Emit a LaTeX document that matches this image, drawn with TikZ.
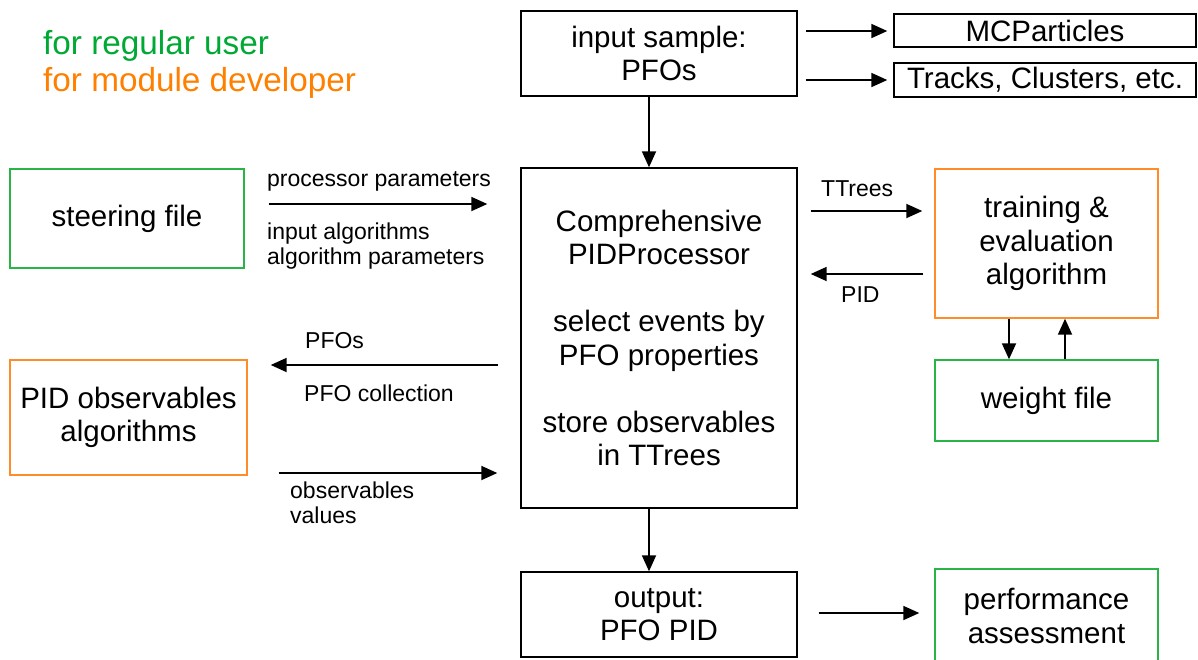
\documentclass[tikz,border=0pt]{standalone}
\usepackage{fontspec}
\setmainfont{Liberation Sans}
\usetikzlibrary{arrows.meta,calc}
\definecolor{txtgreen}{RGB}{0,169,51}
\definecolor{txtorange}{RGB}{255,128,0}
\definecolor{boxgreen}{RGB}{40,180,70}
\definecolor{boxorange}{RGB}{255,140,40}
\begin{document}
\begin{tikzpicture}[x=1pt,y=-1pt,
  box/.style={draw,line width=1.4pt,inner sep=0pt,align=center,font=\fontsize{29.5}{33.5}\selectfont},
  gbox/.style={box,draw=boxgreen},
  obox/.style={box,draw=boxorange},
  lbl/.style={anchor=base west,inner sep=0pt,font=\fontsize{23}{26}\selectfont},
  legend/.style={anchor=base west,inner sep=0pt,font=\fontsize{33.3}{38}\selectfont},
  arr/.style={line width=1.8pt,-{Triangle[length=16pt,width=14pt]}}]
\useasboundingbox (0,0) rectangle (1198,659);
\clip (0,0) rectangle (1198,659);

% legend
\node[legend,text=txtgreen] (leg1) at (43,54.3) {for regular user};
\node[legend,text=txtorange] (leg2) at (43,91.7) {for module developer};

% boxes
\node[box,minimum width=276pt,minimum height=85pt] (input) at (659,53.5) {input sample:\\PFOs};
\node[box,minimum width=302pt,minimum height=33pt] (mcp) at (1045,30.5) {MCParticles};
\node[box,minimum width=302pt,minimum height=34pt] (tracks) at (1045,80) {Tracks, Clusters, etc.};
\node[box,minimum width=276pt,minimum height=340pt] (comp) at (659,338)
  {Comprehensive\\PIDProcessor\\[33.5pt]select events by\\PFO properties\\[33.5pt]store observables\\in TTrees};
\node[gbox,minimum width=234pt,minimum height=99pt] (steer) at (127,218.5) {steering file};
\node[obox,minimum width=223pt,minimum height=149pt] (train) at (1046.5,243.5) {training \&\\evaluation\\algorithm};
\node[gbox,minimum width=223pt,minimum height=81pt] (weight) at (1046.5,400.5) {weight file};
\node[obox,minimum width=237pt,minimum height=115pt] (pidobs) at (128.5,417.5) {PID observables\\algorithms};
\node[box,minimum width=276pt,minimum height=85pt] (output) at (659,614.5) {output:\\PFO PID};
\node[gbox,minimum width=223pt,minimum height=94pt] (perf) at (1046.5,616) {performance\\assessment};

% connectors
\draw[arr,shorten <=8pt,shorten >=6pt] (input.east |- 0,31) -- (mcp.west |- 0,31);
\draw[arr,shorten <=8pt,shorten >=6pt] (input.east |- 0,80) -- (tracks.west |- 0,80);
\draw[arr] (input.south -| 649,0) -- (comp.north -| 649,0);
\draw[arr,shorten <=24pt,shorten >=33pt] (steer.east |- 0,204) -- (comp.west |- 0,204);
\draw[arr,shorten <=13pt,shorten >=12pt] (comp.east |- 0,211) -- (train.west |- 0,211);
\draw[arr,shorten <=11pt,shorten >=13pt] (train.west |- 0,274) -- (comp.east |- 0,274);
\draw[arr] (train.south -| 1009,0) -- (weight.north -| 1009,0);
\draw[arr] (weight.north -| 1065,0) -- (train.south -| 1065,0);
\draw[arr,shorten <=22pt,shorten >=23pt] (comp.west |- 0,365) -- (pidobs.east |- 0,365);
\draw[arr,shorten <=31pt,shorten >=23pt] (pidobs.east |- 0,473) -- (comp.west |- 0,473);
\draw[arr] (comp.south -| 649,0) -- (output.north -| 649,0);
\draw[arr,shorten <=21pt,shorten >=15pt] (output.east |- 0,613) -- (perf.west |- 0,613);

% labels
\node[lbl] (l1) at (267,186) {processor parameters};
\node[lbl] (l2) at (267,239) {input algorithms};
\node[lbl] (l3) at (267,264.5) {algorithm parameters};
\node[lbl] (l4) at (821,196) {TTrees};
\node[lbl] (l5) at (841,302.5) {PID};
\node[lbl] (l6) at (305,348.3) {PFOs};
\node[lbl] (l7) at (304,401) {PFO collection};
\node[lbl] (l8) at (290,498.3) {observables};
\node[lbl] (l9) at (290,523.5) {values};
\end{tikzpicture}
\end{document}
